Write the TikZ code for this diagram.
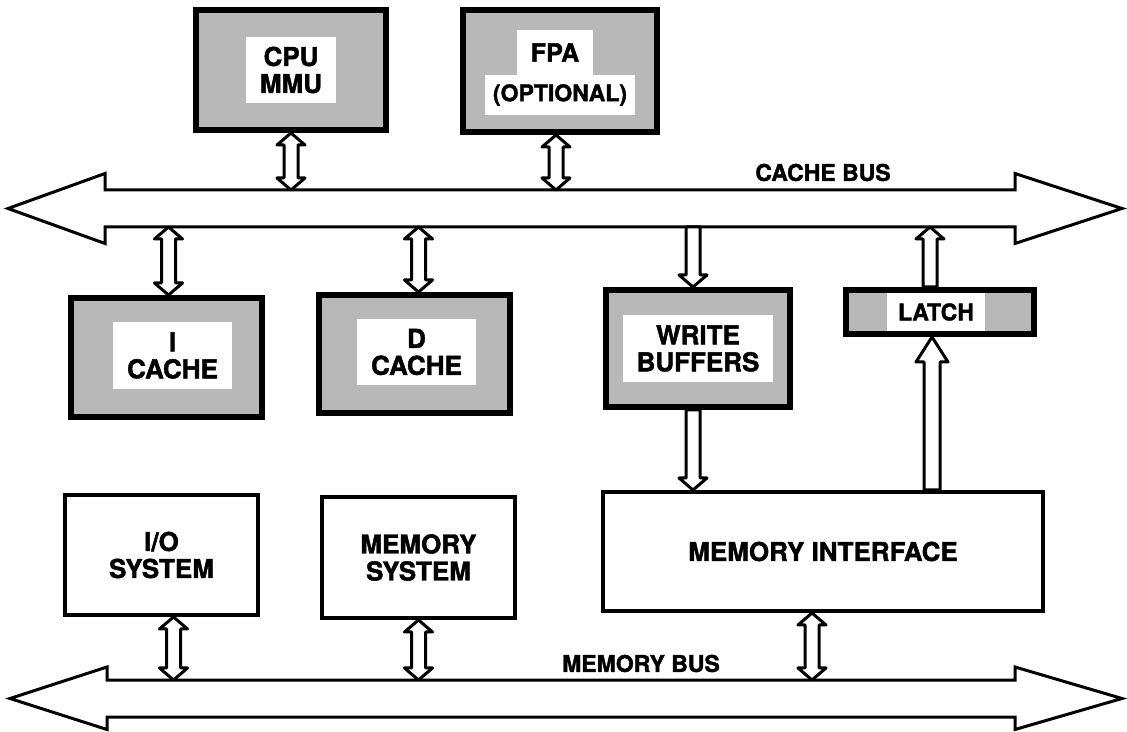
\documentclass[tikz,border=0pt]{standalone}
\usepackage{fontspec}
\setmainfont{TeX Gyre Heros}[BoldFeatures={FakeBold=1.6}]
\usetikzlibrary{calc}
\def\sw{7}\def\hw{14}
% double-headed hollow arrow: #2 top point, #3 bottom point
\newcommand\dblarr[3][12]{%
  \path[conn] let \p1=#2, \p2=#3 in
    (\x1,\y1) -- (\x1+\hw,\y1-#1) -- (\x1+\sw,\y1-#1) -- (\x1+\sw,\y2+#1)
    -- (\x1+\hw,\y2+#1) -- (\x1,\y2) -- (\x1-\hw,\y2+#1) -- (\x1-\sw,\y2+#1)
    -- (\x1-\sw,\y1-#1) -- (\x1-\hw,\y1-#1) -- cycle;}
% upward hollow arrow: head at #2 (top), tail at #3 (bottom)
\newcommand\uparr[3][12]{%
  \path[conn] let \p1=#2, \p2=#3 in
    (\x1,\y1) -- (\x1+\hw,\y1-#1) -- (\x1+\sw,\y1-#1) -- (\x1+\sw,\y2)
    -- (\x1-\sw,\y2) -- (\x1-\sw,\y1-#1) -- (\x1-\hw,\y1-#1) -- cycle;}
% downward hollow arrow: tail at #2 (top), head at #3 (bottom)
\newcommand\downarr[3][12]{%
  \path[conn] let \p1=#2, \p2=#3 in
    (\x1-\sw,\y1) -- (\x1+\sw,\y1) -- (\x1+\sw,\y2+#1) -- (\x1+\hw,\y2+#1)
    -- (\x1,\y2) -- (\x1-\hw,\y2+#1) -- (\x1-\sw,\y2+#1) -- cycle;}
\begin{document}
\begin{tikzpicture}[x=1pt,y=1pt,
  sbox/.style={draw, line width=6pt, fill=black!28, inner sep=0pt},
  wbox/.style={draw, line width=4pt, fill=white, inner sep=0pt},
  txt/.style={font=\fontsize{26}{27}\selectfont\bfseries, align=center},
  wtxt/.style={txt, fill=white, inner xsep=14pt, inner ysep=10pt},
  buslbl/.style={font=\fontsize{23}{24}\selectfont\bfseries},
  bus/.style={draw, line width=3pt, fill=white, line join=miter},
  conn/.style={draw, line width=3pt, fill=white, line join=round}]
\useasboundingbox (0,0) rectangle (1127,731);

% cache bus
\path[bus] (8,522.5) -- (105,557.5) -- (105,541) -- (1015,541) -- (1015,557.5)
  -- (1122,522.5) -- (1015,487.5) -- (1015,504) -- (105,504) -- (105,487.5) -- cycle;
\coordinate (cbt) at (0,541);
\coordinate (cbb) at (0,504);
\node[buslbl] (cbl) at (823,558.5) {CACHE BUS};

% memory bus
\path[bus] (10,32.5) -- (107,64) -- (107,51) -- (1015,51) -- (1015,64)
  -- (1122,32.5) -- (1015,1.5) -- (1015,14) -- (107,14) -- (107,1.5) -- cycle;
\coordinate (mbt) at (0,51);
\coordinate (mbb) at (0,14);
\node[buslbl] (mbl) at (641,67.5) {MEMORY BUS};

% shaded boxes
\node[sbox, minimum width=190, minimum height=120] (cpu) at (291,661) {};
\node[wtxt] (cput) at (cpu) {CPU\\MMU};

\node[sbox, minimum width=194, minimum height=122] (fpa) at (560,660) {};
\node[txt, font=\fontsize{23}{24}\selectfont\bfseries, fill=white, inner sep=0pt,
  minimum width=150, minimum height=40] (fpat2) at (560,636) {(OPTIONAL)};
\node[txt, font=\fontsize{25}{26}\selectfont\bfseries, fill=white, inner sep=0pt,
  minimum width=76, minimum height=45] (fpat1) at (555,678.5) {FPA};

\node[sbox, minimum width=191, minimum height=119] (icache) at (166.5,373.5) {};
\node[wtxt] (icachet) at ($(icache)+(6,2)$) {I\\CACHE};

\node[sbox, minimum width=191, minimum height=118] (dcache) at (414.5,377) {};
\node[wtxt] (dcachet) at ($(dcache)+(2,2)$) {D\\CACHE};

\node[sbox, minimum width=184, minimum height=117] (wbuf) at (698,382.5) {};
\node[wtxt] (wbuft) at (wbuf) {WRITE\\BUFFERS};

\node[sbox, minimum width=188, minimum height=44] (latch) at (940,419) {};
\node[txt, font=\fontsize{23}{24}\selectfont\bfseries, fill=white, inner sep=0pt,
  minimum width=98, minimum height=38] (latcht) at (936,419) {LATCH};

% white boxes
\node[wbox, minimum width=193, minimum height=120, txt] (io) at (161.5,176) {I/O\\SYSTEM};
\node[wbox, minimum width=193, minimum height=121, txt] (memsys) at (418.5,173.5) {MEMORY\\SYSTEM};
\node[wbox, minimum width=440, minimum height=119, txt] (memif) at (823,179.5) {MEMORY INTERFACE};

% connectors
\dblarr{(cpu.south)}{(cpu.south|-cbt)}
\dblarr{($(fpa.south)+(-4,0)$)}{($(fpa.south|-cbt)+(-4,0)$)}
\dblarr{($(icache.north|-cbb)+(2,0)$)}{($(icache.north)+(2,0)$)}
\dblarr{($(dcache.north|-cbb)+(4,0)$)}{($(dcache.north)+(4,0)$)}
\downarr{($(wbuf.north|-cbb)+(-5,0)$)}{($(wbuf.north)+(-5,0)$)}
\downarr{($(wbuf.south)+(-5,0)$)}{($(wbuf.south|-memif.north)+(-5,0)$)}
\uparr{($(latch.north|-cbb)+(-10,0)$)}{($(latch.north)+(-10,0)$)}
{\def\sw{8}\def\hw{16}\uparr[25]{($(latch.south)+(-8,0)$)}{($(latch.south|-memif.north)+(-8,0)$)}}
\dblarr{($(io.south)+(12,0)$)}{($(io.south|-mbt)+(12,0)$)}
\dblarr{(memsys.south)}{(memsys.south|-mbt)}
\dblarr{($(memif.south)+(-11,0)$)}{($(memif.south|-mbt)+(-11,0)$)}
\end{tikzpicture}
\end{document}
